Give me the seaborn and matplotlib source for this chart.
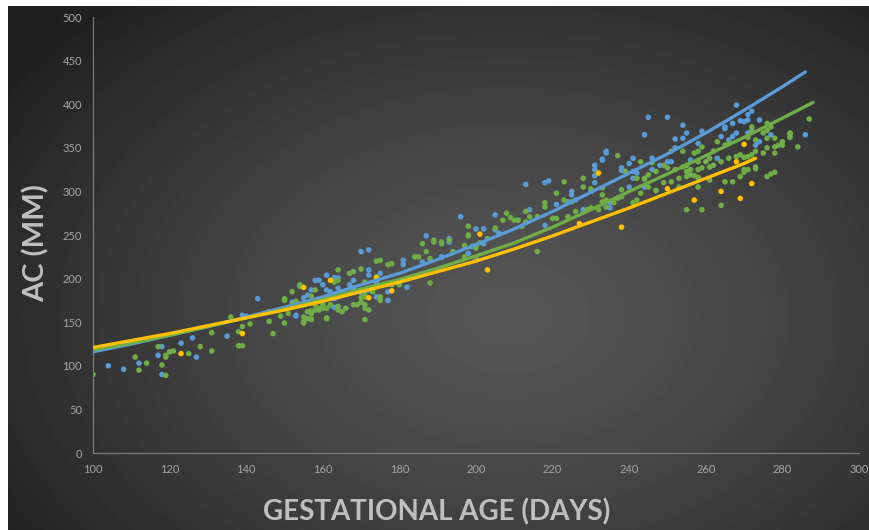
import numpy as np
import pandas as pd
import matplotlib
matplotlib.use("Agg")
import matplotlib.pyplot as plt
import seaborn as sns

# ---- scatter points (day, AC mm) ----
blue_pts = [
    (104, 100), (108, 96), (112, 103), (117, 112), (118, 122), (118, 90), (123, 126),
    (126, 132), (127, 110), (135, 134), (139, 158), (140, 157), (143, 177), (152, 173),
    (153, 157), (153, 158), (155, 178), (156, 181), (157, 187), (158, 198), (159, 198),
    (160, 193), (161, 204), (161, 187), (162, 185), (162, 179), (163, 201), (164, 201),
    (164, 189), (164, 179), (163, 167), (164, 168), (163, 177), (166, 166), (167, 193),
    (168, 198), (168, 185), (168, 189), (170, 231), (172, 233), (172, 204), (172, 210),
    (170, 184), (171, 185), (172, 187), (174, 196), (174, 179), (175, 206), (177, 175),
    (177, 185), (181, 216), (181, 221), (182, 190), (186, 219), (187, 249), (191, 225),
    (191, 224), (193, 242), (193, 246), (196, 271), (198, 229), (199, 237), (200, 257),
    (202, 257), (202, 240), (205, 273), (205, 256), (206, 252), (211, 267), (213, 308),
    (214, 279), (218, 310), (219, 312), (218, 261), (221, 285), (224, 288), (225, 296),
    (225, 300), (226, 290), (228, 277), (228, 279), (230, 300), (231, 310), (231, 318),
    (231, 325), (231, 330), (233, 337), (233, 336), (234, 344), (234, 346), (235, 281),
    (235, 287), (238, 324), (238, 327), (240, 332), (240, 305), (241, 338), (241, 323),
    (241, 315), (242, 321), (244, 365), (244, 305), (245, 385), (246, 338), (246, 325),
    (247, 301), (248, 330), (250, 385), (250, 334), (251, 334), (252, 360), (252, 350),
    (254, 376), (254, 361), (255, 367), (256, 336), (258, 355), (259, 369), (263, 338),
    (264, 363), (265, 372), (265, 374), (266, 359), (267, 363), (267, 378), (268, 367),
    (268, 399), (269, 381), (270, 380), (271, 382), (271, 388), (271, 367), (272, 392),
    (272, 370), (273, 353), (274, 357), (274, 382), (277, 365), (282, 363), (286, 365),
]

green_pts = [
    (100, 90), (111, 110), (112, 95), (114, 103), (117, 122), (118, 101), (119, 110),
    (119, 112), (119, 89), (120, 116), (121, 117), (125, 114), (128, 122), (131, 138),
    (131, 117), (136, 156), (138, 123), (139, 123), (138, 139), (139, 145), (141, 148),
    (146, 151), (147, 137), (146, 162), (149, 157), (150, 149), (150, 175), (150, 177),
    (151, 160), (152, 185), (152, 170), (153, 174), (153, 173), (154, 191), (154, 193),
    (155, 151), (155, 149), (155, 156), (156, 162), (156, 154), (157, 163), (157, 154),
    (157, 180), (157, 160), (157, 153), (158, 187), (158, 164), (158, 170), (159, 166),
    (159, 164), (160, 166), (160, 170), (161, 155), (161, 154), (161, 166), (162, 170),
    (163, 196), (164, 198), (164, 210), (164, 164), (164, 168), (165, 181), (165, 162),
    (166, 166), (167, 206), (168, 208), (168, 170), (169, 170), (170, 211), (170, 173),
    (170, 178), (171, 196), (171, 170), (171, 181), (171, 166), (171, 179), (171, 153),
    (172, 164), (173, 185), (174, 220), (174, 202), (175, 175), (175, 179), (175, 221),
    (177, 216), (178, 217), (178, 193), (180, 193), (184, 225), (185, 225), (186, 240),
    (187, 231), (188, 223), (188, 195), (189, 244), (189, 242), (191, 240), (191, 242),
    (193, 244), (194, 231), (197, 238), (197, 225), (198, 260), (198, 249), (198, 250),
    (200, 238), (200, 235), (200, 223), (201, 241), (203, 246), (205, 258), (207, 267),
    (208, 275), (209, 270), (210, 267), (211, 267), (212, 260), (213, 277), (213, 265),
    (214, 271), (216, 271), (216, 231), (218, 282), (218, 287), (220, 269), (221, 298),
    (221, 269), (223, 311), (223, 290), (224, 271), (225, 288), (226, 277), (228, 315),
    (228, 305), (229, 279), (230, 281), (230, 303), (232, 279), (233, 288), (233, 296),
    (233, 304), (234, 282), (234, 290), (236, 287), (237, 292), (237, 341), (238, 294),
    (238, 302), (239, 323), (241, 287), (242, 290), (242, 315), (243, 298), (243, 334),
    (244, 314), (244, 315), (245, 305), (245, 319), (246, 333), (247, 301), (247, 323),
    (249, 310), (249, 330), (250, 327), (251, 311), (251, 346), (252, 325), (253, 305),
    (253, 315), (254, 346), (254, 328), (255, 330), (255, 317), (255, 323), (255, 279),
    (256, 319), (256, 325), (257, 344), (257, 318), (258, 346), (258, 334), (258, 325),
    (258, 316), (258, 305), (259, 351), (259, 327), (259, 279), (260, 334), (261, 338),
    (261, 328), (261, 313), (262, 346), (262, 330), (263, 357), (264, 334), (264, 284),
    (265, 353), (265, 311), (266, 355), (266, 338), (267, 311), (268, 340), (269, 342),
    (269, 317), (270, 339), (270, 322), (270, 325), (271, 340), (271, 325), (271, 362),
    (272, 342), (272, 368), (272, 374), (273, 346), (273, 359), (273, 326), (273, 328),
    (275, 344), (275, 367), (276, 370), (276, 361), (276, 350), (276, 378), (276, 317),
    (277, 374), (277, 320), (278, 361), (278, 351), (278, 322), (278, 344), (279, 353),
    (280, 357), (280, 353), (282, 362), (282, 367), (282, 366), (284, 351), (287, 383),
]

yellow_pts = [
    (123, 114), (139, 137), (155, 190), (162, 198), (172, 178), (174, 201), (178, 186),
    (201, 251), (203, 210), (227, 263), (232, 321), (238, 259), (250, 303), (257, 290),
    (264, 300), (268, 334), (269, 292), (270, 354), (272, 309),
]

# ---- fitted curves, read about every 10 days ----
blue_fit_days = [100, 110, 120, 130, 140, 150, 160, 170, 180, 190, 200, 210, 220, 230,
                 240, 250, 260, 270, 280, 286]
blue_fit_ac = [116, 125, 135, 145, 156, 167, 179, 193, 206, 222, 239, 257, 277, 299,
               321, 343, 367, 393, 420, 437]

green_fit_days = [100, 110, 120, 130, 140, 150, 160, 170, 180, 190, 200, 210, 220, 230,
                  240, 250, 260, 270, 280, 288]
green_fit_ac = [118, 126, 135, 145, 155, 165, 176, 188, 199, 212, 226, 241, 259, 279,
                300, 320, 341, 362, 384, 402]

yellow_fit_days = [100, 110, 120, 130, 140, 150, 160, 170, 180, 190, 200, 210, 220, 230,
                   240, 250, 260, 270, 273]
yellow_fit_ac = [121, 129, 137, 146, 155, 164, 174, 185, 196, 208, 220, 234, 249, 265,
                 281, 298, 315, 332, 338]

x_ticks = list(range(100, 301, 20))
y_ticks = list(range(0, 501, 50))

colors = {"blue": "#5b9bd5", "green": "#70ad47", "yellow": "#ffc000"}


def to_frame(pts, name):
    df = pd.DataFrame(pts, columns=["day", "ac"])
    df["series"] = name
    return df


scatter_df = pd.concat([to_frame(blue_pts, "blue"),
                        to_frame(green_pts, "green"),
                        to_frame(yellow_pts, "yellow")], ignore_index=True)

fit_df = pd.concat([
    pd.DataFrame({"day": blue_fit_days, "ac": blue_fit_ac, "series": "blue"}),
    pd.DataFrame({"day": green_fit_days, "ac": green_fit_ac, "series": "green"}),
    pd.DataFrame({"day": yellow_fit_days, "ac": yellow_fit_ac, "series": "yellow"}),
], ignore_index=True)

sns.set_style("ticks")
plt.rcParams["font.family"] = ["Lato", "DejaVu Sans"]

W, H = 869, 530
fig = plt.figure(figsize=(W / 100, H / 100), dpi=100)
fig.patch.set_facecolor("white")

# dark radial gradient background (leaves thin white strip top/left)
bg = fig.add_axes([8 / W, 0, 1 - 8 / W, 1 - 6 / H])
bg.set_axis_off()
yy, xx = np.mgrid[0:H - 6, 0:W - 8]
r = np.sqrt(((xx - 500) / 620.0) ** 2 + ((yy - 310) / 430.0) ** 2)
shade = 0.34 - 0.22 * np.clip(r, 0, 1) ** 1.3
bg.imshow(shade, cmap="gray", vmin=0, vmax=1, aspect="auto",
          extent=[0, 1, 0, 1], origin="upper", interpolation="bilinear")

ax = fig.add_axes([93 / W, 77 / H, (859 - 93) / W, (453 - 17) / H])
ax.set_facecolor("none")

sns.scatterplot(data=scatter_df, x="day", y="ac", hue="series", palette=colors,
                s=16, linewidth=0, edgecolor="none", legend=False, ax=ax, zorder=2)
sns.lineplot(data=fit_df, x="day", y="ac", hue="series", palette=colors,
             linewidth=2.4, legend=False, ax=ax, zorder=3, sort=True)

ax.set_xlim(100, 300)
ax.set_ylim(0, 500)
ax.set_xticks(x_ticks)
ax.set_yticks(y_ticks)
ax.tick_params(length=0, colors="#a6a6a6", labelsize=8, pad=8)
for side in ["top", "right"]:
    ax.spines[side].set_visible(False)
for side in ["left", "bottom"]:
    ax.spines[side].set_color("#808080")
    ax.spines[side].set_linewidth(0.8)
ax.set_xlabel("")
ax.set_ylabel("")

fig.text(437 / W, 1 - 512 / H, "GESTATIONAL AGE (DAYS)", ha="center", va="center",
         fontsize=20, fontweight="bold", color="#bfbfbf")
fig.text(36 / W, 1 - 243 / H, "AC (MM)", ha="center", va="center", rotation=90,
         fontsize=21, fontweight="bold", color="#bfbfbf")

fig.savefig("out.png", dpi=100)
